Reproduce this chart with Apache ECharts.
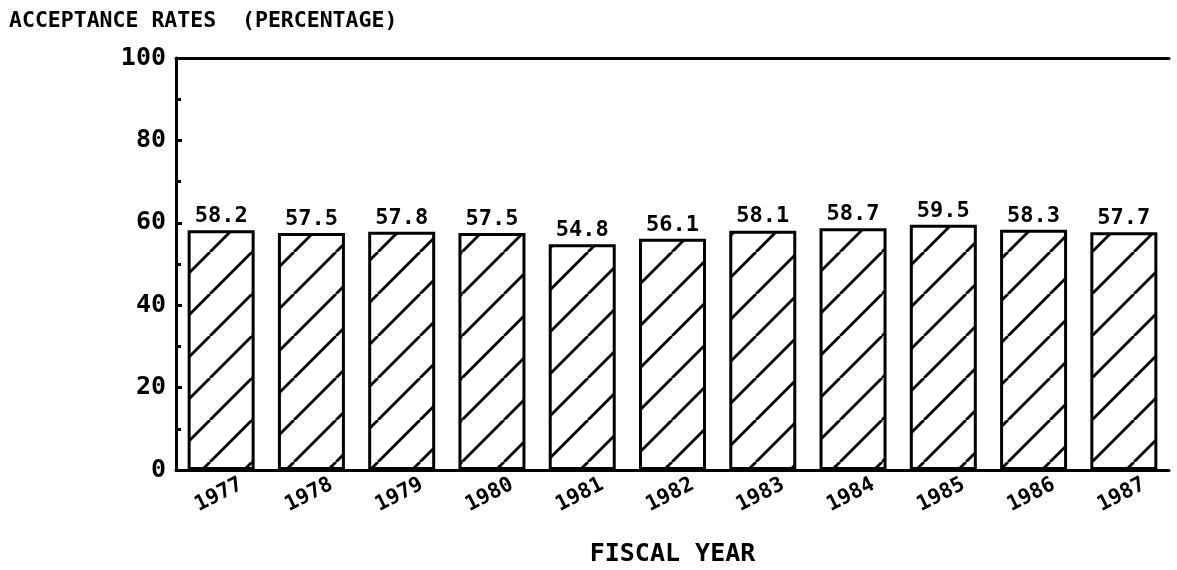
<!DOCTYPE html>
<html>
<head>
<meta charset="utf-8">
<script src="https://cdn.jsdelivr.net/npm/echarts@6/dist/echarts.min.js"></script>
<style>
  html, body { margin: 0; padding: 0; background: #fff; }
  #chart_rates { width: 1177px; height: 570px; }
</style>
</head>
<body>
<div id="chart_rates"></div>
<script>
const years = ['1977', '1978', '1979', '1980', '1981', '1982', '1983', '1984', '1985', '1986', '1987'];
const rates = [58.2, 57.5, 57.8, 57.5, 54.8, 56.1, 58.1, 58.7, 59.5, 58.3, 57.7];
const yTicks = [0, 20, 40, 60, 80, 100];

const FONT = 'DejaVu Sans Mono';

// hatch tile: "/" lines
function hatch () {
  const s = 42;
  const c = document.createElement('canvas');
  c.width = s;
  c.height = s;
  const ctx = c.getContext('2d');
  ctx.fillStyle = '#fff';
  ctx.fillRect(0, 0, s, s);
  ctx.strokeStyle = '#000';
  ctx.lineWidth = 2.8;
  [-s, 0, s].forEach(o => {
    ctx.beginPath();
    ctx.moveTo(o, s);
    ctx.lineTo(o + s, 0);
    ctx.stroke();
  });
  return c;
}

const myChart = echarts.init(document.getElementById('chart_rates'));
const option = {
  animation: false,
  title: {
    text: 'ACCEPTANCE RATES  (PERCENTAGE)',
    left: 4,
    top: 5,
    textStyle: { fontFamily: FONT, fontWeight: 'bold', fontSize: 21.5, color: '#000' }
  },
  grid: { top: 58, bottom: 100, left: 176, right: 8, outerBoundsMode: 'none', containLabel: false },
  xAxis: [
    {
      type: 'category',
      data: years,
      axisLine: { lineStyle: { color: '#000', width: 3 } },
      axisTick: { show: false },
      axisLabel: {
        rotate: 27,
        align: 'center',
        verticalAlign: 'top',
        margin: 12,
        padding: [0, 16, 0, 0],
        fontFamily: FONT,
        fontWeight: 'bold',
        fontSize: 21,
        color: '#000'
      },
      name: 'FISCAL YEAR',
      nameLocation: 'middle',
      nameGap: 72,
      nameTextStyle: { fontFamily: FONT, fontWeight: 'bold', fontSize: 25, color: '#000' }
    },
    {
      type: 'category',
      data: years,
      position: 'top',
      axisLine: { lineStyle: { color: '#000', width: 3 } },
      axisTick: { show: false },
      axisLabel: { show: false }
    }
  ],
  yAxis: {
    type: 'value',
    min: yTicks[0],
    max: yTicks[yTicks.length - 1],
    interval: 20,
    axisLine: { show: true, lineStyle: { color: '#000', width: 3 } },
    axisTick: { show: true, inside: true, length: 6, lineStyle: { color: '#000', width: 3 } },
    minorTick: { show: true, splitNumber: 2, length: 5, lineStyle: { color: '#000', width: 3 } },
    splitLine: { show: false },
    axisLabel: {
      margin: 10,
      fontFamily: FONT,
      fontWeight: 'bold',
      fontSize: 25,
      color: '#000'
    }
  },
  series: [
    {
      type: 'bar',
      data: rates,
      barWidth: 67,
      itemStyle: {
        color: { image: hatch(), repeat: 'repeat' },
        borderColor: '#000',
        borderWidth: 3
      },
      label: {
        show: true,
        position: 'top',
        distance: 3,
        formatter: p => p.value.toFixed(1),
        fontFamily: FONT,
        fontWeight: 'bold',
        fontSize: 22,
        color: '#000'
      }
    }
  ]
};
myChart.setOption(option);
</script>
</body>
</html>
